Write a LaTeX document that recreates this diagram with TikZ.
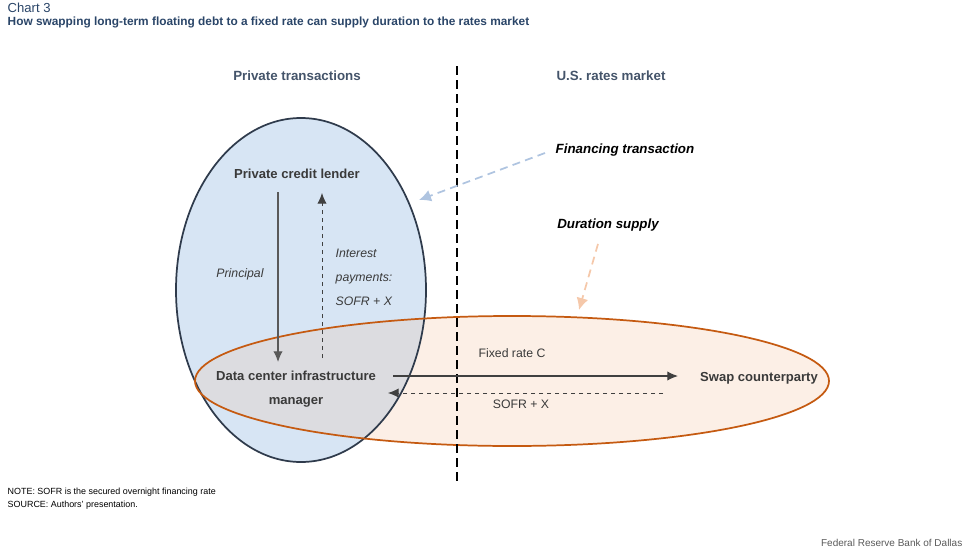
\documentclass[tikz,border=0pt]{standalone}
\usepackage{fontspec}
\setmainfont{Liberation Sans}
\usepackage{xcolor}
\usepackage{tikz}
\usetikzlibrary{calc, positioning, arrows.meta}

\definecolor{titleblue}{HTML}{2A4568}
\definecolor{headgrey}{HTML}{44546A}
\definecolor{textdark}{HTML}{3A3A3A}
\definecolor{lenderfill}{HTML}{D7E5F4}
\definecolor{lenderline}{HTML}{2F3B4C}
\definecolor{swapfill}{HTML}{FCEFE6}
\definecolor{swapline}{HTML}{C55A11}
\definecolor{overlapfill}{HTML}{DCDCE0}
\definecolor{finarrow}{HTML}{AFC4E0}
\definecolor{durarrow}{HTML}{F5C8AA}

\begin{document}
\begin{tikzpicture}[x=0.75pt, y=-0.75pt, >={Latex[length=8pt,width=7pt]},
    heading/.style={font=\bfseries\fontsize{10}{12}\selectfont, text=headgrey},
    party/.style={font=\bfseries\fontsize{9.8}{18}\selectfont, text=textdark, align=center},
    flowlabel/.style={font=\fontsize{9.2}{18}\selectfont, text=textdark},
    callout/.style={font=\bfseries\itshape\fontsize{10}{12}\selectfont, text=black},
    bigtip/.style={-{Latex[length=9pt,width=9pt]}}]

    \useasboundingbox (0,0) rectangle (972,550);

    % =================================================================
    % 1. TITLE AND NOTES
    % =================================================================
    \node[anchor=west, text=titleblue, font=\fontsize{9.8}{11}\selectfont] (chart) at (3,8) {Chart 3};
    \node[anchor=west, text=titleblue, font=\bfseries\fontsize{8.9}{10}\selectfont] (title) at (3,22)
        {How swapping long-term floating debt to a fixed rate can supply duration to the rates market};

    \node[anchor=west, font=\fontsize{6.7}{8}\selectfont] (note) at (3,492) {NOTE: SOFR is the secured overnight financing rate};
    \node[anchor=west, font=\fontsize{6.7}{8}\selectfont] (source) at (3,505) {SOURCE: Authors' presentation.};
    \node[anchor=east, text=black!65, font=\fontsize{7.5}{9}\selectfont] (fed) at (967,543) {Federal Reserve Bank of Dallas};

    % =================================================================
    % 2. THE TWO ELLIPSES (fills first, then outlines)
    % =================================================================
    \fill[lenderfill] (301,290) ellipse [x radius=125, y radius=172];
    \fill[swapfill] (512,381) ellipse [x radius=317, y radius=65];
    \begin{scope}
        \clip (301,290) ellipse [x radius=125, y radius=172];
        \fill[overlapfill] (512,381) ellipse [x radius=317, y radius=65];
    \end{scope}
    \draw[lenderline, line width=1.3pt] (301,290) ellipse [x radius=125, y radius=172];
    \draw[swapline, line width=1.3pt] (512,381) ellipse [x radius=317, y radius=65];

    % divider between the two sides
    \draw[black, line width=1.1pt, dash pattern=on 7pt off 3.5pt] (457,66) -- (457,482);

    \node[heading] (private) at (297,76) {Private transactions};
    \node[heading] (market) at (611,76) {U.S. rates market};

    % =================================================================
    % 3. PARTIES AND FLOWS
    % =================================================================
    \node[party] (lender) at (297,174) {Private credit lender};
    \node[party] (manager) at (296,389) {Data center infrastructure\\manager};
    \node[party] (swap) at (759,378) {Swap counterparty};

    \coordinate (pTop) at (278,192);
    \coordinate (pBot) at (278,362);
    \coordinate (iTop) at (322,193);
    \coordinate (iBot) at (322,358);
    \coordinate (fStart) at (393,376);
    \coordinate (fEnd) at (678,376);
    \coordinate (sStart) at (663,393);
    \coordinate (sEnd) at (388,393);

    \draw[->, black!65, line width=0.9pt] (pTop) -- (pBot);
    \draw[->, black!75, dashed, line width=0.7pt] (iBot) -- (iTop);
    \draw[->, black!75, line width=0.9pt] (fStart) -- (fEnd);
    \draw[->, black!75, dashed, line width=0.7pt] (sStart) -- (sEnd);

    \node[flowlabel, font=\itshape\fontsize{9.2}{18}\selectfont] (principal) at (240,274) {Principal};
    \node[flowlabel, font=\itshape\fontsize{9.2}{18}\selectfont, anchor=north west, align=left] (interest) at (331,244)
        {Interest\\payments:\\SOFR + X};
    \node[flowlabel] (fixed) at (512,353) {Fixed rate C};
    \node[flowlabel] (sofr) at (521,404) {SOFR + X};

    % =================================================================
    % 4. CALLOUTS
    % =================================================================
    \node[callout] (financing) at (625,150) {Financing transaction};
    \node[callout] (duration) at (608,225) {Duration supply};
    \coordinate (finTip) at (419,200);
    \coordinate (durTip) at (579,310);

    \draw[bigtip, finarrow, line width=1.3pt, dash pattern=on 6pt off 4pt] ($(financing.west)+(-6,3)$) -- (finTip);
    \draw[bigtip, durarrow, line width=1.3pt, dash pattern=on 6pt off 4pt] ($(duration.south)+(-10,8)$) -- (durTip);

\end{tikzpicture}
\end{document}
